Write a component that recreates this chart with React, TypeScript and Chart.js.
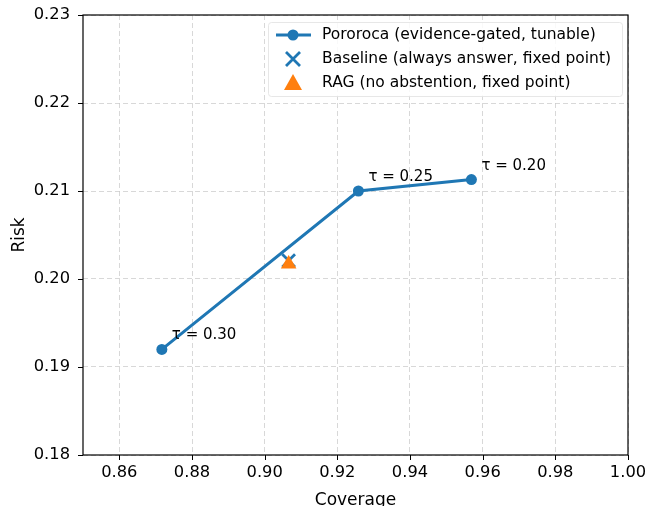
import React, { useEffect, useRef } from "react";
import { Chart, registerables } from "chart.js";

Chart.register(...registerables);

const coverage = [0.8717, 0.9258, 0.9569];
const risk = [0.192, 0.21, 0.2113];
const tauLabels = ["τ = 0.30", "τ = 0.25", "τ = 0.20"];
const baselineCoverage = [0.9066];
const baselineRisk = [0.2021];
const ragCoverage = [0.9066];
const ragRisk = [0.2017];
const xTicks = [0.86, 0.88, 0.9, 0.92, 0.94, 0.96, 0.98, 1.0];
const yTicks = [0.18, 0.19, 0.2, 0.21, 0.22, 0.23];
const legendLabels = [
  "Pororoca (evidence-gated, tunable)",
  "Baseline (always answer, fixed point)",
  "RAG (no abstention, fixed point)",
];

const BLUE = "#1f77b4";
const ORANGE = "#ff7f0e";
const FONT = "'DejaVu Sans', sans-serif";
const FS = 15.5;
const TICK_FS = 16.3;
const TITLE_FS = 17;

const framePlugin = {
  id: "frame",
  afterDatasetsDraw(chart: any) {
    const { ctx, chartArea: a, scales } = chart;
    ctx.save();
    ctx.fillStyle = "#000";
    ctx.font = `15px ${FONT}`;
    ctx.textAlign = "left";
    ctx.textBaseline = "alphabetic";
    coverage.forEach((c, i) => {
      const px = scales.x.getPixelForValue(c);
      const py = scales.y.getPixelForValue(risk[i]);
      ctx.fillText(tauLabels[i], px + 10, py - 10);
    });
    ctx.strokeStyle = "#000";
    ctx.lineWidth = 1.2;
    ctx.strokeRect(a.left, a.top, a.right - a.left, a.bottom - a.top);
    ctx.beginPath();
    xTicks.forEach((v) => {
      const px = Math.round(scales.x.getPixelForValue(v)) + 0.5;
      ctx.moveTo(px, a.bottom);
      ctx.lineTo(px, a.bottom + 5);
    });
    yTicks.forEach((v) => {
      const py = Math.round(scales.y.getPixelForValue(v)) + 0.5;
      ctx.moveTo(a.left, py);
      ctx.lineTo(a.left - 5, py);
    });
    ctx.lineWidth = 1;
    ctx.stroke();
    ctx.restore();
  },
  afterDraw(chart: any) {
    const { ctx } = chart;
    ctx.save();
    const bx = 268, by = 22, bw = 354, bh = 74;
    ctx.fillStyle = "rgba(255,255,255,0.85)";
    ctx.strokeStyle = "rgba(225,225,225,0.8)";
    ctx.lineWidth = 1;
    ctx.beginPath();
    (ctx as any).roundRect(bx + 0.5, by + 0.5, bw, bh, 3);
    ctx.fill();
    ctx.stroke();
    const hx = 293;
    const rows = [35, 59, 83];
    ctx.strokeStyle = BLUE;
    ctx.lineWidth = 3;
    ctx.beginPath();
    ctx.moveTo(276, rows[0]);
    ctx.lineTo(311, rows[0]);
    ctx.stroke();
    ctx.fillStyle = BLUE;
    ctx.beginPath();
    ctx.arc(hx, rows[0], 5.5, 0, Math.PI * 2);
    ctx.fill();
    ctx.lineWidth = 2.8;
    ctx.beginPath();
    ctx.moveTo(hx - 7, rows[1] - 7);
    ctx.lineTo(hx + 7, rows[1] + 7);
    ctx.moveTo(hx + 7, rows[1] - 7);
    ctx.lineTo(hx - 7, rows[1] + 7);
    ctx.stroke();
    ctx.fillStyle = ORANGE;
    ctx.beginPath();
    ctx.moveTo(hx, rows[2] - 9);
    ctx.lineTo(hx + 9, rows[2] + 7);
    ctx.lineTo(hx - 9, rows[2] + 7);
    ctx.closePath();
    ctx.fill();
    ctx.fillStyle = "#000";
    ctx.font = `${FS}px ${FONT}`;
    ctx.textBaseline = "middle";
    ctx.textAlign = "left";
    legendLabels.forEach((t, i) => ctx.fillText(t, 322, rows[i]));
    ctx.restore();
  },
};

export default function App() {
  const ref = useRef<HTMLCanvasElement>(null);
  useEffect(() => {
    document.body.style.margin = "0";
    const chart = new Chart(ref.current!, {
      type: "scatter",
      data: {
        datasets: [
          {
            label: legendLabels[2],
            data: ragCoverage.map((x, i) => ({ x, y: ragRisk[i] })),
            pointStyle: "triangle",
            pointRadius: 9,
            pointBackgroundColor: ORANGE,
            pointBorderColor: ORANGE,
            pointBorderWidth: 0,
            order: 1,
          },
          {
            label: legendLabels[1],
            data: baselineCoverage.map((x, i) => ({ x, y: baselineRisk[i] })),
            pointStyle: "crossRot",
            pointRadius: 9,
            pointBorderColor: BLUE,
            pointBorderWidth: 2.8,
            order: 2,
          },
          {
            label: legendLabels[0],
            data: coverage.map((x, i) => ({ x, y: risk[i] })),
            showLine: true,
            borderColor: BLUE,
            borderWidth: 3,
            pointRadius: 5.5,
            pointBackgroundColor: BLUE,
            pointBorderColor: BLUE,
            pointBorderWidth: 0,
            order: 3,
          },
        ],
      },
      options: {
        responsive: false,
        animation: false,
        layout: { padding: { left: 0, right: 20, top: 15, bottom: 0 } },
        plugins: { legend: { display: false }, tooltip: { enabled: false } },
        scales: {
          x: {
            type: "linear",
            min: 0.85,
            max: 1.0,
            afterBuildTicks: (s: any) => {
              s.ticks = xTicks.map((v) => ({ value: v }));
            },
            afterFit: (s: any) => {
              s.height = 51;
              s.paddingLeft = 0;
              s.paddingRight = 0;
            },
            grid: { color: "rgba(200,200,200,0.7)", lineWidth: 1, drawTicks: false },
            border: { display: false, dash: [5, 3] },
            ticks: {
              color: "#000",
              font: { family: FONT, size: TICK_FS },
              padding: 8,
              callback: (v: any) => Number(v).toFixed(2),
            },
            title: {
              display: true,
              text: "Coverage",
              color: "#000",
              font: { family: FONT, size: TITLE_FS },
              padding: { top: 0, bottom: -5 },
            },
          },
          y: {
            type: "linear",
            min: 0.18,
            max: 0.23,
            afterBuildTicks: (s: any) => {
              s.ticks = yTicks.map((v) => ({ value: v }));
            },
            afterFit: (s: any) => {
              s.width = 83;
              s.paddingTop = 0;
              s.paddingBottom = 0;
            },
            grid: { color: "rgba(200,200,200,0.7)", lineWidth: 1, drawTicks: false },
            border: { display: false, dash: [5, 3] },
            ticks: {
              color: "#000",
              font: { family: FONT, size: TICK_FS },
              padding: 13,
              callback: (v: any) => Number(v).toFixed(2),
            },
            title: {
              display: true,
              text: "Risk",
              color: "#000",
              font: { family: FONT, size: TITLE_FS },
              padding: { top: 9, bottom: 0 },
            },
          },
        },
      },
      plugins: [framePlugin],
    } as any);
    return () => chart.destroy();
  }, []);
  return (
    <div style={{ width: 648, height: 506 }}>
      <canvas ref={ref} width={648} height={506} />
    </div>
  );
}
